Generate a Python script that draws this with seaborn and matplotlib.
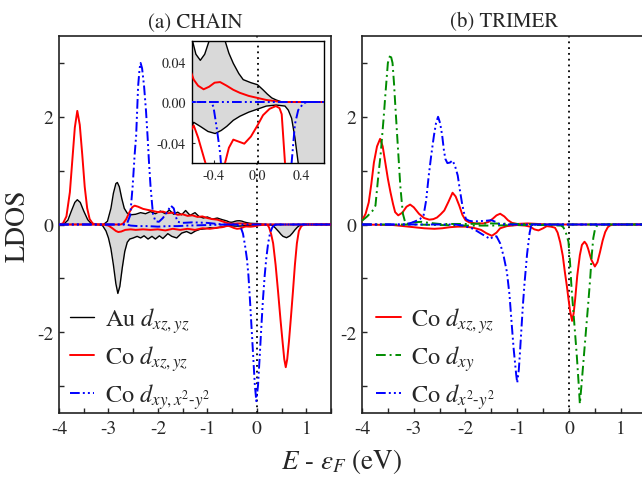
import matplotlib
matplotlib.use("Agg")
import matplotlib.pyplot as plt
import seaborn as sns
from matplotlib.ticker import MultipleLocator

# ---------------- (a) CHAIN ----------------
au_up_E = [-4.00, -3.90, -3.82, -3.75, -3.68, -3.63, -3.57, -3.50, -3.42, -3.35, -3.25, -3.10, -3.02, -2.95,
           -2.90, -2.85, -2.82, -2.78, -2.73, -2.68, -2.62, -2.55, -2.45, -2.35, -2.25, -2.15, -2.05, -1.95,
           -1.85, -1.77, -1.68, -1.60, -1.52, -1.44, -1.35, -1.25, -1.17, -1.08, -1.00, -0.90, -0.80, -0.70,
           -0.64, -0.60, -0.56, -0.52, -0.48, -0.44, -0.40, -0.35, -0.30, -0.26, -0.22, -0.17, -0.13, -0.06,
           0.00, 0.05, 0.09, 0.13, 0.17, 0.22, 1.50]
au_up_V = [0.00, 0.01, 0.08, 0.25, 0.41, 0.46, 0.41, 0.25, 0.09, 0.02, 0.00, 0.00, 0.06, 0.30,
           0.58, 0.76, 0.78, 0.70, 0.48, 0.30, 0.21, 0.18, 0.19, 0.22, 0.20, 0.24, 0.20, 0.25,
           0.20, 0.27, 0.19, 0.23, 0.18, 0.26, 0.17, 0.22, 0.15, 0.12, 0.14, 0.10, 0.12, 0.09,
           0.075, 0.064, 0.047, 0.041, 0.047, 0.060, 0.068, 0.070, 0.062, 0.048, 0.038, 0.028, 0.022, 0.019,
           0.017, 0.012, 0.0077, 0.004, 0.002, 0.0, 0.0]

au_dn_E = [-4.00, -3.20, -3.12, -3.05, -3.00, -2.95, -2.90, -2.85, -2.81, -2.77, -2.72, -2.67, -2.62, -2.57,
           -2.50, -2.42, -2.35, -2.28, -2.20, -2.12, -2.05, -1.97, -1.90, -1.80, -1.72, -1.62, -1.52, -1.42,
           -1.33, -1.24, -1.15, -1.05, -0.95, -0.85, -0.75, -0.64, -0.58, -0.52, -0.45, -0.385, -0.33, -0.28,
           -0.22, -0.16, -0.08, 0.00, 0.08, 0.17, 0.25, 0.28, 0.31, 0.34, 0.37, 0.41, 0.45, 0.49, 0.53, 0.60,
           0.67, 0.72, 0.77, 0.82, 0.87, 0.93, 1.50]
au_dn_V = [0.00, 0.00, -0.02, -0.12, -0.25, -0.45, -0.75, -1.10, -1.28, -1.15, -0.80, -0.50, -0.33, -0.27,
           -0.25, -0.22, -0.25, -0.21, -0.27, -0.22, -0.27, -0.21, -0.26, -0.17, -0.22, -0.25, -0.16, -0.13,
           -0.17, -0.12, -0.09, -0.08, -0.06, -0.07, -0.05, -0.035, -0.020, -0.024, -0.029, -0.031, -0.028, -0.024,
           -0.018, -0.014, -0.010, -0.007, -0.004, -0.003, -0.004, -0.008, -0.016, -0.035, -0.06, -0.10, -0.14, -0.185, -0.22, -0.245,
           -0.21, -0.16, -0.10, -0.05, -0.015, 0.0, 0.0]

co_xz_up_E = [-4.00, -3.92, -3.85, -3.78, -3.73, -3.68, -3.63, -3.58, -3.53, -3.48, -3.43, -3.38, -3.32, -3.25,
              -2.75, -2.70, -2.64, -2.58, -2.52, -2.47, -2.40, -2.30, -2.20, -2.10, -2.00, -1.90, -1.80, -1.70,
              -1.60, -1.50, -1.40, -1.30, -1.20, -1.10, -1.00, -0.90, -0.80, -0.70, -0.64, -0.58, -0.54, -0.49,
              -0.44, -0.39, -0.34, -0.28, -0.22, -0.16, -0.08, 0.00, 0.08, 0.15, 0.22, 1.50]
co_xz_up_V = [0.00, 0.02, 0.15, 0.60, 1.20, 1.80, 2.11, 1.85, 1.30, 0.70, 0.30, 0.10, 0.02, 0.00,
              0.00, 0.02, 0.10, 0.22, 0.32, 0.35, 0.33, 0.29, 0.27, 0.25, 0.23, 0.24, 0.21, 0.22,
              0.18, 0.19, 0.16, 0.17, 0.14, 0.15, 0.12, 0.10, 0.09, 0.06, 0.04, 0.022, 0.016, 0.0125,
              0.015, 0.019, 0.0196, 0.016, 0.012, 0.009, 0.006, 0.004, 0.002, 0.001, 0.0, 0.0]

co_xz_dn_E = [-4.00, -3.10, -3.00, -2.92, -2.85, -2.80, -2.74, -2.66, -2.55, -2.45, -2.30, -2.15, -2.00, -1.85,
              -1.70, -1.55, -1.40, -1.25, -1.10, -0.95, -0.80, -0.70, -0.64, -0.58, -0.54, -0.50, -0.46, -0.40,
              -0.35, -0.30, -0.26, -0.22, -0.17, -0.12, -0.06, 0.00, 0.05, 0.11, 0.167, 0.20, 0.22, 0.25, 0.29,
              0.33, 0.38, 0.43, 0.48, 0.52, 0.555, 0.585, 0.615, 0.65, 0.69, 0.73, 0.77, 0.81, 0.85, 0.90, 0.96, 1.50]
co_xz_dn_V = [0.00, 0.00, -0.02, -0.07, -0.12, -0.14, -0.13, -0.10, -0.09, -0.10, -0.09, -0.10, -0.09, -0.11,
              -0.08, -0.10, -0.08, -0.10, -0.07, -0.08, -0.06, -0.05, -0.035, -0.023, -0.035, -0.05, -0.065, -0.08,
              -0.075, -0.062, -0.045, -0.037, -0.039, -0.041, -0.034, -0.023, -0.013, -0.0067, -0.004, -0.006, -0.012, -0.06, -0.18,
              -0.35, -0.75, -1.25, -1.78, -2.17, -2.50, -2.65, -2.50, -2.17, -1.72, -1.25, -0.75, -0.35, -0.12, -0.03, 0.0, 0.0]

co_xy_up_E = [-4.00, -2.70, -2.62, -2.56, -2.51, -2.47, -2.44, -2.40, -2.37, -2.35, -2.32, -2.28, -2.24, -2.21,
              -2.18, -2.15, -2.12, -2.10, -2.05, -1.98, -1.90, -1.82, -1.74, -1.68, -1.64, -1.60, -1.50, -1.30,
              -1.00, -0.80, -0.65, 1.50]
co_xy_up_V = [0.00, 0.00, 0.03, 0.17, 0.72, 1.30, 1.65, 2.57, 2.90, 3.00, 2.90, 2.57, 2.10, 1.65,
              1.15, 0.72, 0.40, 0.20, 0.06, 0.05, 0.12, 0.22, 0.35, 0.30, 0.15, 0.05, 0.03, 0.04,
              0.03, 0.01, 0.0, 0.0]

co_xy_dn_E = [-4.00, -2.65, -2.55, -2.40, -2.20, -2.00, -1.80, -1.60, -1.40, -1.00, -0.60, -0.42, -0.40, -0.37,
              -0.34, -0.31, -0.28, -0.24, -0.20, -0.17, -0.14, -0.11, -0.075, -0.04, -0.01, 0.025, 0.06, 0.094,
              0.125, 0.16, 0.19, 0.23, 0.27, 0.31, 0.34, 0.37, 0.42, 0.46, 1.50]
co_xy_dn_V = [0.00, 0.00, -0.02, -0.03, -0.03, -0.04, -0.03, -0.03, -0.02, -0.01, 0.0, 0.0, -0.005, -0.026,
              -0.05, -0.09, -0.17, -0.38, -0.64, -0.94, -1.38, -1.86, -2.42, -2.98, -3.28, -2.98, -2.42, -1.86,
              -1.38, -0.94, -0.64, -0.34, -0.15, -0.06, -0.022, -0.008, -0.001, 0.0, 0.0]

# ---------------- (b) TRIMER ----------------
t_xz_up_E = [-4.00, -3.93, -3.87, -3.82, -3.77, -3.71, -3.65, -3.60, -3.55, -3.50, -3.45, -3.40, -3.36, -3.30,
             -3.22, -3.14, -3.07, -3.00, -2.90, -2.80, -2.70, -2.62, -2.55, -2.48, -2.41, -2.33, -2.25, -2.19,
             -2.12, -2.06, -2.00, -1.93, -1.80, -1.65, -1.55, -1.47, -1.40, -1.33, -1.25, -1.18, -1.10, -1.00,
             -0.80, -0.60, -0.40, 1.50]
t_xz_up_V = [0.07, 0.20, 0.41, 0.75, 1.15, 1.45, 1.59, 1.45, 1.15, 0.85, 0.60, 0.38, 0.23, 0.17,
             0.22, 0.33, 0.37, 0.32, 0.20, 0.12, 0.09, 0.10, 0.13, 0.19, 0.26, 0.42, 0.59, 0.52,
             0.35, 0.18, 0.08, 0.04, 0.02, 0.02, 0.05, 0.11, 0.17, 0.20, 0.15, 0.08, 0.03, 0.01,
             0.02, 0.01, 0.0, 0.0]

t_xz_dn_E = [-4.00, -3.40, -3.20, -3.00, -2.80, -2.60, -2.45, -2.30, -2.15, -2.00, -1.85, -1.70, -1.60, -1.49,
             -1.40, -1.33, -1.20, -1.00, -0.85, -0.75, -0.67, -0.59, -0.50, -0.43, -0.35, -0.27, -0.22, -0.17,
             -0.12, -0.08, -0.04, -0.01, 0.02, 0.06, 0.09, 0.12, 0.16, 0.21, 0.25, 0.30, 0.34, 0.37, 0.43, 0.50,
             0.55, 0.60, 0.65, 0.70, 0.75, 0.79, 0.85, 1.50]
t_xz_dn_V = [0.00, -0.01, -0.03, -0.05, -0.07, -0.08, -0.07, -0.05, -0.04, -0.04, -0.06, -0.10, -0.16, -0.21,
             -0.15, -0.07, -0.03, -0.01, -0.02, -0.04, -0.09, -0.11, -0.07, -0.03, -0.04, -0.06, -0.15, -0.33,
             -0.58, -0.88, -1.15, -1.38, -1.60, -1.79, -1.65, -1.38, -0.95, -0.57, -0.38, -0.32, -0.37, -0.45, -0.65, -0.78,
             -0.70, -0.51, -0.30, -0.14, -0.05, -0.02, 0.0, 0.0]

t_xy_up_E = [-4.00, -3.90, -3.80, -3.74, -3.68, -3.64, -3.61, -3.58, -3.55, -3.50, -3.45, -3.41, -3.38, -3.36,
             -3.33, -3.30, -3.26, -3.23, -3.21, -3.16, -3.10, -3.00, -2.85, -2.70, -2.50, -2.00, -1.50, -1.00,
             -0.50, 1.50]
t_xy_up_V = [0.07, 0.15, 0.25, 0.35, 0.95, 1.30, 1.65, 2.00, 2.39, 3.00, 3.16, 3.00, 2.60, 2.27,
             1.80, 1.34, 0.72, 0.40, 0.20, 0.02, 0.01, 0.04, 0.05, 0.03, 0.01, 0.01, 0.02, 0.01,
             0.0, 0.0]

t_xy_dn_E = [-4.00, -3.00, -2.50, -2.00, -1.50, -1.00, -0.50, -0.15, -0.11, -0.06, -0.01, 0.02, 0.05, 0.10,
             0.15, 0.19, 0.21, 0.24, 0.29, 0.33, 0.37, 0.41, 0.44, 0.47, 0.50, 0.54, 0.58, 1.50]
t_xy_dn_V = [0.00, 0.00, -0.01, -0.02, -0.02, -0.01, -0.01, -0.02, -0.05, -0.15, -0.32, -0.70, -1.19, -1.80,
             -2.42, -3.00, -3.33, -3.00, -2.42, -1.95, -1.49, -1.00, -0.57, -0.25, -0.10, -0.02, 0.0, 0.0]

t_x2_up_E = [-4.00, -3.20, -3.05, -2.97, -2.88, -2.81, -2.76, -2.71, -2.66, -2.61, -2.57, -2.53, -2.49, -2.45,
             -2.42, -2.39, -2.35, -2.30, -2.25, -2.20, -2.15, -2.11, -2.07, -2.03, -1.99, -1.93, -1.87, -1.75,
             -1.60, -1.50, -1.42, -1.35, -1.20, 1.50]
t_x2_up_V = [0.00, 0.00, 0.03, 0.06, 0.10, 0.17, 0.45, 0.91, 1.30, 1.65, 1.88, 2.00, 1.88, 1.65,
             1.40, 1.22, 1.14, 1.15, 1.19, 1.08, 0.91, 0.65, 0.41, 0.22, 0.10, 0.07, 0.06, 0.06,
             0.07, 0.08, 0.05, 0.01, 0.0, 0.0]

t_x2_dn_E = [-4.00, -2.20, -2.05, -1.95, -1.85, -1.68, -1.52, -1.46, -1.40, -1.33, -1.26, -1.20, -1.15, -1.11,
             -1.07, -1.02, -1.00, -0.97, -0.95, -0.92, -0.89, -0.86, -0.84, -0.81, -0.79, -0.76, -0.73, -0.65, 1.50]
t_x2_dn_V = [0.00, 0.00, -0.02, -0.05, -0.08, -0.18, -0.27, -0.22, -0.22, -0.35, -0.60, -0.88, -1.30, -1.81,
             -2.30, -2.79, -2.94, -2.70, -2.42, -1.95, -1.49, -1.10, -0.88, -0.55, -0.39, -0.15, -0.02, 0.0, 0.0]

# ---------------- style ----------------
sns.set_style("ticks")
plt.rcParams['font.family'] = ['STIXGeneral', 'DejaVu Serif']
plt.rcParams['mathtext.fontset'] = 'stix'
plt.rcParams['axes.unicode_minus'] = False

RED = '#ff0000'
BLUE = '#0000ff'
GREEN = '#008c00'
GRAY = '#d9d9d9'
DASHDOTDOT = (0, (5, 1.6, 1, 1.6, 1, 1.6))
DASHDOT = (0, (5, 2, 1, 2))

W, H = 642, 485
fig = plt.figure(figsize=(W / 100, H / 100), dpi=100)
axL = fig.add_axes([59 / W, (H - 414) / H, 272 / W, 377 / H])
axR = fig.add_axes([362 / W, (H - 414) / H, 284.6 / W, 377 / H])
axI = fig.add_axes([191.5 / W, (H - 164) / H, 132 / W, 122 / H])


def line(ax, E, V, color, ls='-', lw=1.3, z=3):
    sns.lineplot(x=E, y=V, ax=ax, color=color, linestyle=ls, lw=lw, sort=False,
                 estimator=None, zorder=z)
    return ax.lines[-1]


def draw_chain(ax, lw_scale=1.0):
    ax.fill_between(au_up_E, au_up_V, 0, color=GRAY, lw=0, zorder=1)
    ax.fill_between(au_dn_E, au_dn_V, 0, color=GRAY, lw=0, zorder=1)
    h1 = line(ax, au_up_E, au_up_V, 'black', '-', 1.0 * lw_scale)
    line(ax, au_dn_E, au_dn_V, 'black', '-', 1.0 * lw_scale)
    h2 = line(ax, co_xz_up_E, co_xz_up_V, RED, '-', 1.4 * lw_scale)
    line(ax, co_xz_dn_E, co_xz_dn_V, RED, '-', 1.4 * lw_scale)
    h3 = line(ax, co_xy_up_E, co_xy_up_V, BLUE, DASHDOTDOT, 1.4 * lw_scale)
    line(ax, co_xy_dn_E, co_xy_dn_V, BLUE, DASHDOTDOT, 1.4 * lw_scale)
    ax.axvline(0, color='black', ls=(0, (1, 2.2)), lw=1.3, zorder=2)
    return h1, h2, h3


hL = draw_chain(axL)
draw_chain(axI)

g1 = line(axR, t_xz_up_E, t_xz_up_V, RED, '-', 1.4)
line(axR, t_xz_dn_E, t_xz_dn_V, RED, '-', 1.4)
g2 = line(axR, t_xy_up_E, t_xy_up_V, GREEN, DASHDOT, 1.4)
line(axR, t_xy_dn_E, t_xy_dn_V, GREEN, DASHDOT, 1.4)
g3 = line(axR, t_x2_up_E, t_x2_up_V, BLUE, DASHDOTDOT, 1.4)
line(axR, t_x2_dn_E, t_x2_dn_V, BLUE, DASHDOTDOT, 1.4)
axR.axvline(0, color='black', ls=(0, (1, 2.2)), lw=1.3, zorder=2)

for ax in (axL, axR):
    ax.set_xlim(-4, 1.5)
    ax.set_ylim(-3.5, 3.5)
    ax.xaxis.set_major_locator(MultipleLocator(1))
    ax.xaxis.set_minor_locator(MultipleLocator(0.5))
    ax.yaxis.set_major_locator(MultipleLocator(2))
    ax.yaxis.set_minor_locator(MultipleLocator(1))
    ax.tick_params(which='both', direction='in', length=3.5, width=1.0, top=False, right=False)
    ax.tick_params(axis='x', which='major', labelsize=14, pad=5)
    ax.tick_params(axis='y', which='major', labelsize=14, pad=4)
    for s in ax.spines.values():
        s.set_linewidth(1.2)
        s.set_color('#222222')
    ax.set_xlabel('')
    ax.set_ylabel('')

axI.set_xlim(-0.6, 0.6)
axI.set_ylim(-0.06, 0.06)
axI.set_xticks([-0.4, 0.0, 0.4])
axI.set_xticklabels(['-0.4', '0.0', '0.4'])
axI.set_yticks([-0.04, 0.0, 0.04])
axI.set_yticklabels(['-0.04', '0.00', '0.04'])
axI.tick_params(direction='in', length=2.5, width=0.8, labelsize=10, pad=4)
axI.set_xlabel('')
axI.set_ylabel('')
for s in axI.spines.values():
    s.set_linewidth(1.0)
    s.set_color('black')

axL.set_title('(a) CHAIN', fontsize=15, pad=7)
axR.set_title('(b) TRIMER', fontsize=15, pad=7)

leg_kw = dict(loc='lower left', frameon=False, fontsize=17.5, handlelength=1.0,
              handletextpad=0.45, labelspacing=0.35, borderaxespad=0, borderpad=0)
axL.legend([hL[0], hL[1], hL[2]],
           [r'Au $d_{xz,yz}$', r'Co $d_{xz,yz}$', r'Co $d_{xy,x^2\text{-}y^2}$'],
           bbox_to_anchor=(0.04, 0.005), **leg_kw)
axR.legend([g1, g2, g3],
           [r'Co $d_{xz,yz}$', r'Co $d_{xy}$', r'Co $d_{x^2\text{-}y^2}$'],
           bbox_to_anchor=(0.05, 0.005), **leg_kw)

fig.text(18 / W, 1 - 226 / H, 'LDOS', rotation=90, ha='center', va='center', fontsize=20)
fig.text(342 / W, 1 - 462 / H, r'$E$ - $\varepsilon_F$ (eV)', ha='center', va='center', fontsize=19.5)

fig.savefig('out.png', dpi=100)
